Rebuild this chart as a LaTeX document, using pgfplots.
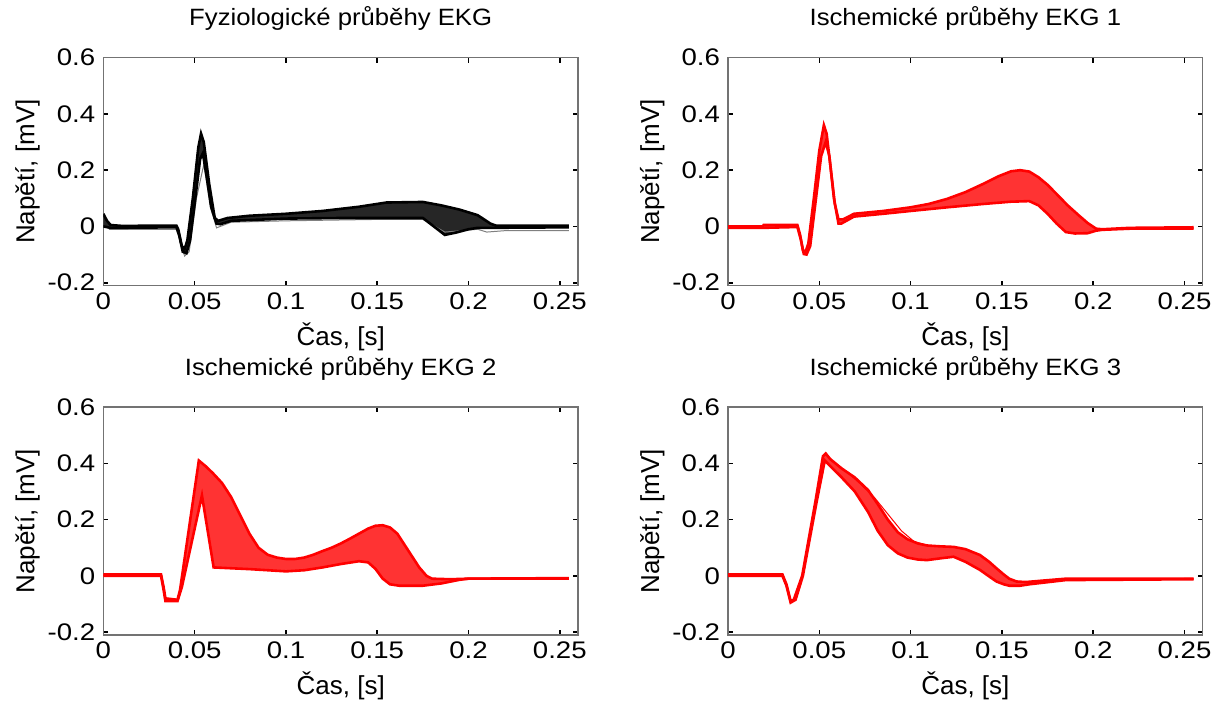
\documentclass[border=0pt]{standalone}
\usepackage{fontspec}
\setmainfont{Liberation Sans}
\usepackage{pgfplots}
\pgfplotsset{compat=1.18}
\usepgfplotslibrary{fillbetween}
\pgfplotsset{ekg/.style={
  scale only axis, width=237.5pt, height=114pt,
  xmin=0, xmax=0.26, ymin=-0.21, ymax=0.6,
  xtick={0,0.05,0.1,0.15,0.2,0.25},
  xticklabels={0,0.05,0.1,0.15,0.2,0.25},
  ytick={-0.2,0,0.2,0.4,0.6},
  yticklabels={-0.2,0,0.2,0.4,0.6},
  tick align=inside, major tick length=2.5pt,
  tick style={black, line width=0.8pt},
  axis line style={black!55, line width=0.6pt},
  ticklabel style={font=\fontsize{12}{14}\selectfont, xscale=1.15},
  yticklabel style={xshift=0pt},
  label style={font=\fontsize{13}{15}\selectfont},
  title style={font=\fontsize{11.8}{14}\selectfont, xscale=1.09, at={(axis description cs:0.5,1)}, anchor=base, yshift=10pt},
  xlabel={Čas, [s]}, ylabel={Napětí, [mV]},
  xlabel style={at={(axis description cs:0.5,0)}, anchor=base, yshift=-30pt},
  ylabel style={at={(axis description cs:0,0.5)}, anchor=base, yshift=34.5pt},
  tr/.style={line width=1.3pt},
}}
\begin{document}
\begin{tikzpicture}
\path (0,0) rectangle (609.5pt,350pt);
% Panel 1
\begin{axis}[ekg, at={(51.7pt,210.3pt)}, anchor=south west, title={Fyziologické průběhy EKG}]
\addplot[gray, line width=0.5pt] coordinates {(0.003,-0.01) (0.04,-0.01) (0.0445,-0.105) (0.047,-0.09) (0.051,0.1) (0.055,0.22) (0.059,0.06) (0.062,-0.005) (0.07,0.015) (0.1,0.02) (0.15,0.025) (0.175,0.025) (0.187,-0.02) (0.205,-0.01) (0.21,-0.02) (0.22,-0.015) (0.255,-0.015)};
\addplot[name path=U1, black, tr] coordinates {(0,0.045) (0.002,0.02) (0.004,0.005) (0.010,0.002) (0.040,0.003) (0.041,-0.01) (0.043,-0.07) (0.0445,-0.08) (0.046,-0.05) (0.049,0.10) (0.052,0.28) (0.0535,0.33) (0.055,0.30) (0.058,0.15) (0.061,0.03) (0.063,0.02) (0.068,0.03) (0.08,0.038) (0.10,0.045) (0.12,0.055) (0.14,0.07) (0.155,0.085) (0.175,0.087) (0.185,0.075) (0.195,0.06) (0.205,0.04) (0.212,0.01) (0.215,0.003) (0.255,0.003)};
\addplot[name path=L1, black, tr] coordinates {(0,0.0) (0.004,-0.005) (0.040,-0.003) (0.0415,-0.03) (0.0435,-0.09) (0.0455,-0.095) (0.0475,-0.05) (0.050,0.08) (0.053,0.24) (0.0545,0.26) (0.0565,0.18) (0.059,0.07) (0.062,0.01) (0.064,0.008) (0.07,0.02) (0.1,0.028) (0.13,0.03) (0.175,0.03) (0.181,0.0) (0.187,-0.03) (0.193,-0.022) (0.200,-0.01) (0.205,-0.005) (0.21,-0.005) (0.255,-0.003)};
\addplot[black!85] fill between[of=U1 and L1];
\end{axis}
% Panel 2
\begin{axis}[ekg, at={(364.2pt,210.3pt)}, anchor=south west, title={Ischemické průběhy EKG 1}]
\addplot[name path=U2, red, tr] coordinates {(0,0.0) (0.019,0.0) (0.0195,0.005) (0.038,0.005) (0.0395,-0.03) (0.041,-0.085) (0.0425,-0.09) (0.044,-0.06) (0.047,0.1) (0.050,0.27) (0.0525,0.36) (0.054,0.33) (0.056,0.22) (0.0585,0.08) (0.0605,0.025) (0.063,0.025) (0.069,0.045) (0.085,0.055) (0.1,0.068) (0.11,0.08) (0.12,0.098) (0.13,0.122) (0.14,0.152) (0.148,0.178) (0.155,0.196) (0.16,0.2) (0.165,0.195) (0.17,0.175) (0.175,0.148) (0.18,0.115) (0.186,0.075) (0.192,0.04) (0.197,0.012) (0.2016,-0.008) (0.205,-0.01) (0.22,-0.005) (0.255,-0.003)};
\addplot[name path=L2, red, tr] coordinates {(0,-0.005) (0.019,-0.005) (0.038,-0.002) (0.04,-0.05) (0.0415,-0.098) (0.043,-0.1) (0.045,-0.07) (0.048,0.09) (0.051,0.25) (0.0535,0.3) (0.0555,0.25) (0.058,0.1) (0.0605,0.01) (0.062,0.01) (0.069,0.035) (0.085,0.045) (0.1,0.055) (0.12,0.068) (0.14,0.08) (0.155,0.088) (0.165,0.09) (0.17,0.075) (0.175,0.045) (0.18,0.01) (0.185,-0.02) (0.19,-0.025) (0.197,-0.024) (0.2016,-0.015) (0.205,-0.012) (0.22,-0.008) (0.255,-0.008)};
\addplot[red!80] fill between[of=U2 and L2];
\end{axis}
% Panel 3
\begin{axis}[ekg, at={(51.7pt,35.5pt)}, anchor=south west, title={Ischemické průběhy EKG 2}]
\addplot[name path=U3, red, tr] coordinates {(0,0.005) (0.0316,0.005) (0.033,-0.04) (0.034,-0.08) (0.0406,-0.085) (0.042,-0.05) (0.0523,0.41) (0.056,0.39) (0.06,0.365) (0.065,0.33) (0.07,0.28) (0.075,0.215) (0.08,0.15) (0.085,0.1) (0.09,0.075) (0.095,0.065) (0.1,0.06) (0.105,0.06) (0.11,0.065) (0.115,0.075) (0.12,0.088) (0.125,0.1) (0.13,0.115) (0.135,0.132) (0.14,0.15) (0.145,0.168) (0.149,0.178) (0.153,0.18) (0.157,0.172) (0.161,0.15) (0.165,0.11) (0.169,0.07) (0.173,0.03) (0.177,0.0) (0.18,-0.01) (0.19,-0.012) (0.2,-0.01) (0.255,-0.008)};
\addplot[name path=L3, red, tr] coordinates {(0,0.0) (0.0316,0.0) (0.033,-0.05) (0.034,-0.09) (0.0406,-0.09) (0.043,-0.04) (0.054,0.286) (0.0604,0.03) (0.07,0.027) (0.08,0.024) (0.09,0.02) (0.1,0.016) (0.11,0.02) (0.12,0.03) (0.13,0.042) (0.14,0.052) (0.145,0.048) (0.149,0.025) (0.153,-0.01) (0.157,-0.03) (0.162,-0.035) (0.168,-0.035) (0.175,-0.035) (0.185,-0.027) (0.195,-0.014) (0.2,-0.01) (0.255,-0.01)};
\addplot[red!80] fill between[of=U3 and L3];
\end{axis}
% Panel 4
\begin{axis}[ekg, at={(364.2pt,35.5pt)}, anchor=south west, title={Ischemické průběhy EKG 3}]
\addplot[name path=U4, red, tr] coordinates {(0,0.005) (0.0298,0.005) (0.032,-0.03) (0.0343,-0.09) (0.036,-0.085) (0.0406,0.0) (0.0478,0.262) (0.052,0.425) (0.0535,0.435) (0.056,0.415) (0.0622,0.382) (0.0694,0.35) (0.0767,0.305) (0.082,0.255) (0.0875,0.2) (0.093,0.155) (0.0983,0.13) (0.104,0.115) (0.109,0.108) (0.116,0.105) (0.1235,0.103) (0.13,0.095) (0.138,0.074) (0.143,0.05) (0.147,0.027) (0.151,0.005) (0.154,-0.01) (0.158,-0.02) (0.163,-0.022) (0.185,-0.01) (0.255,-0.01)};
\addplot[name path=L4, red, tr] coordinates {(0,0.0) (0.0298,0.0) (0.032,-0.035) (0.0343,-0.095) (0.037,-0.085) (0.041,0.0) (0.0485,0.262) (0.053,0.41) (0.056,0.39) (0.0622,0.35) (0.0694,0.3) (0.0767,0.227) (0.082,0.16) (0.0875,0.109) (0.093,0.08) (0.0983,0.065) (0.104,0.058) (0.109,0.056) (0.116,0.062) (0.1235,0.068) (0.13,0.05) (0.138,0.021) (0.143,-0.002) (0.147,-0.02) (0.151,-0.03) (0.154,-0.035) (0.16,-0.035) (0.165,-0.03) (0.185,-0.015) (0.255,-0.012)};
\addplot[red!80] fill between[of=U4 and L4];
\addplot[red, line width=0.5pt] coordinates {(0.056,0.415) (0.065,0.37) (0.072,0.33) (0.08,0.28) (0.0875,0.22) (0.095,0.16) (0.1019,0.122) (0.109,0.109)};
\end{axis}
\end{tikzpicture}
\end{document}
